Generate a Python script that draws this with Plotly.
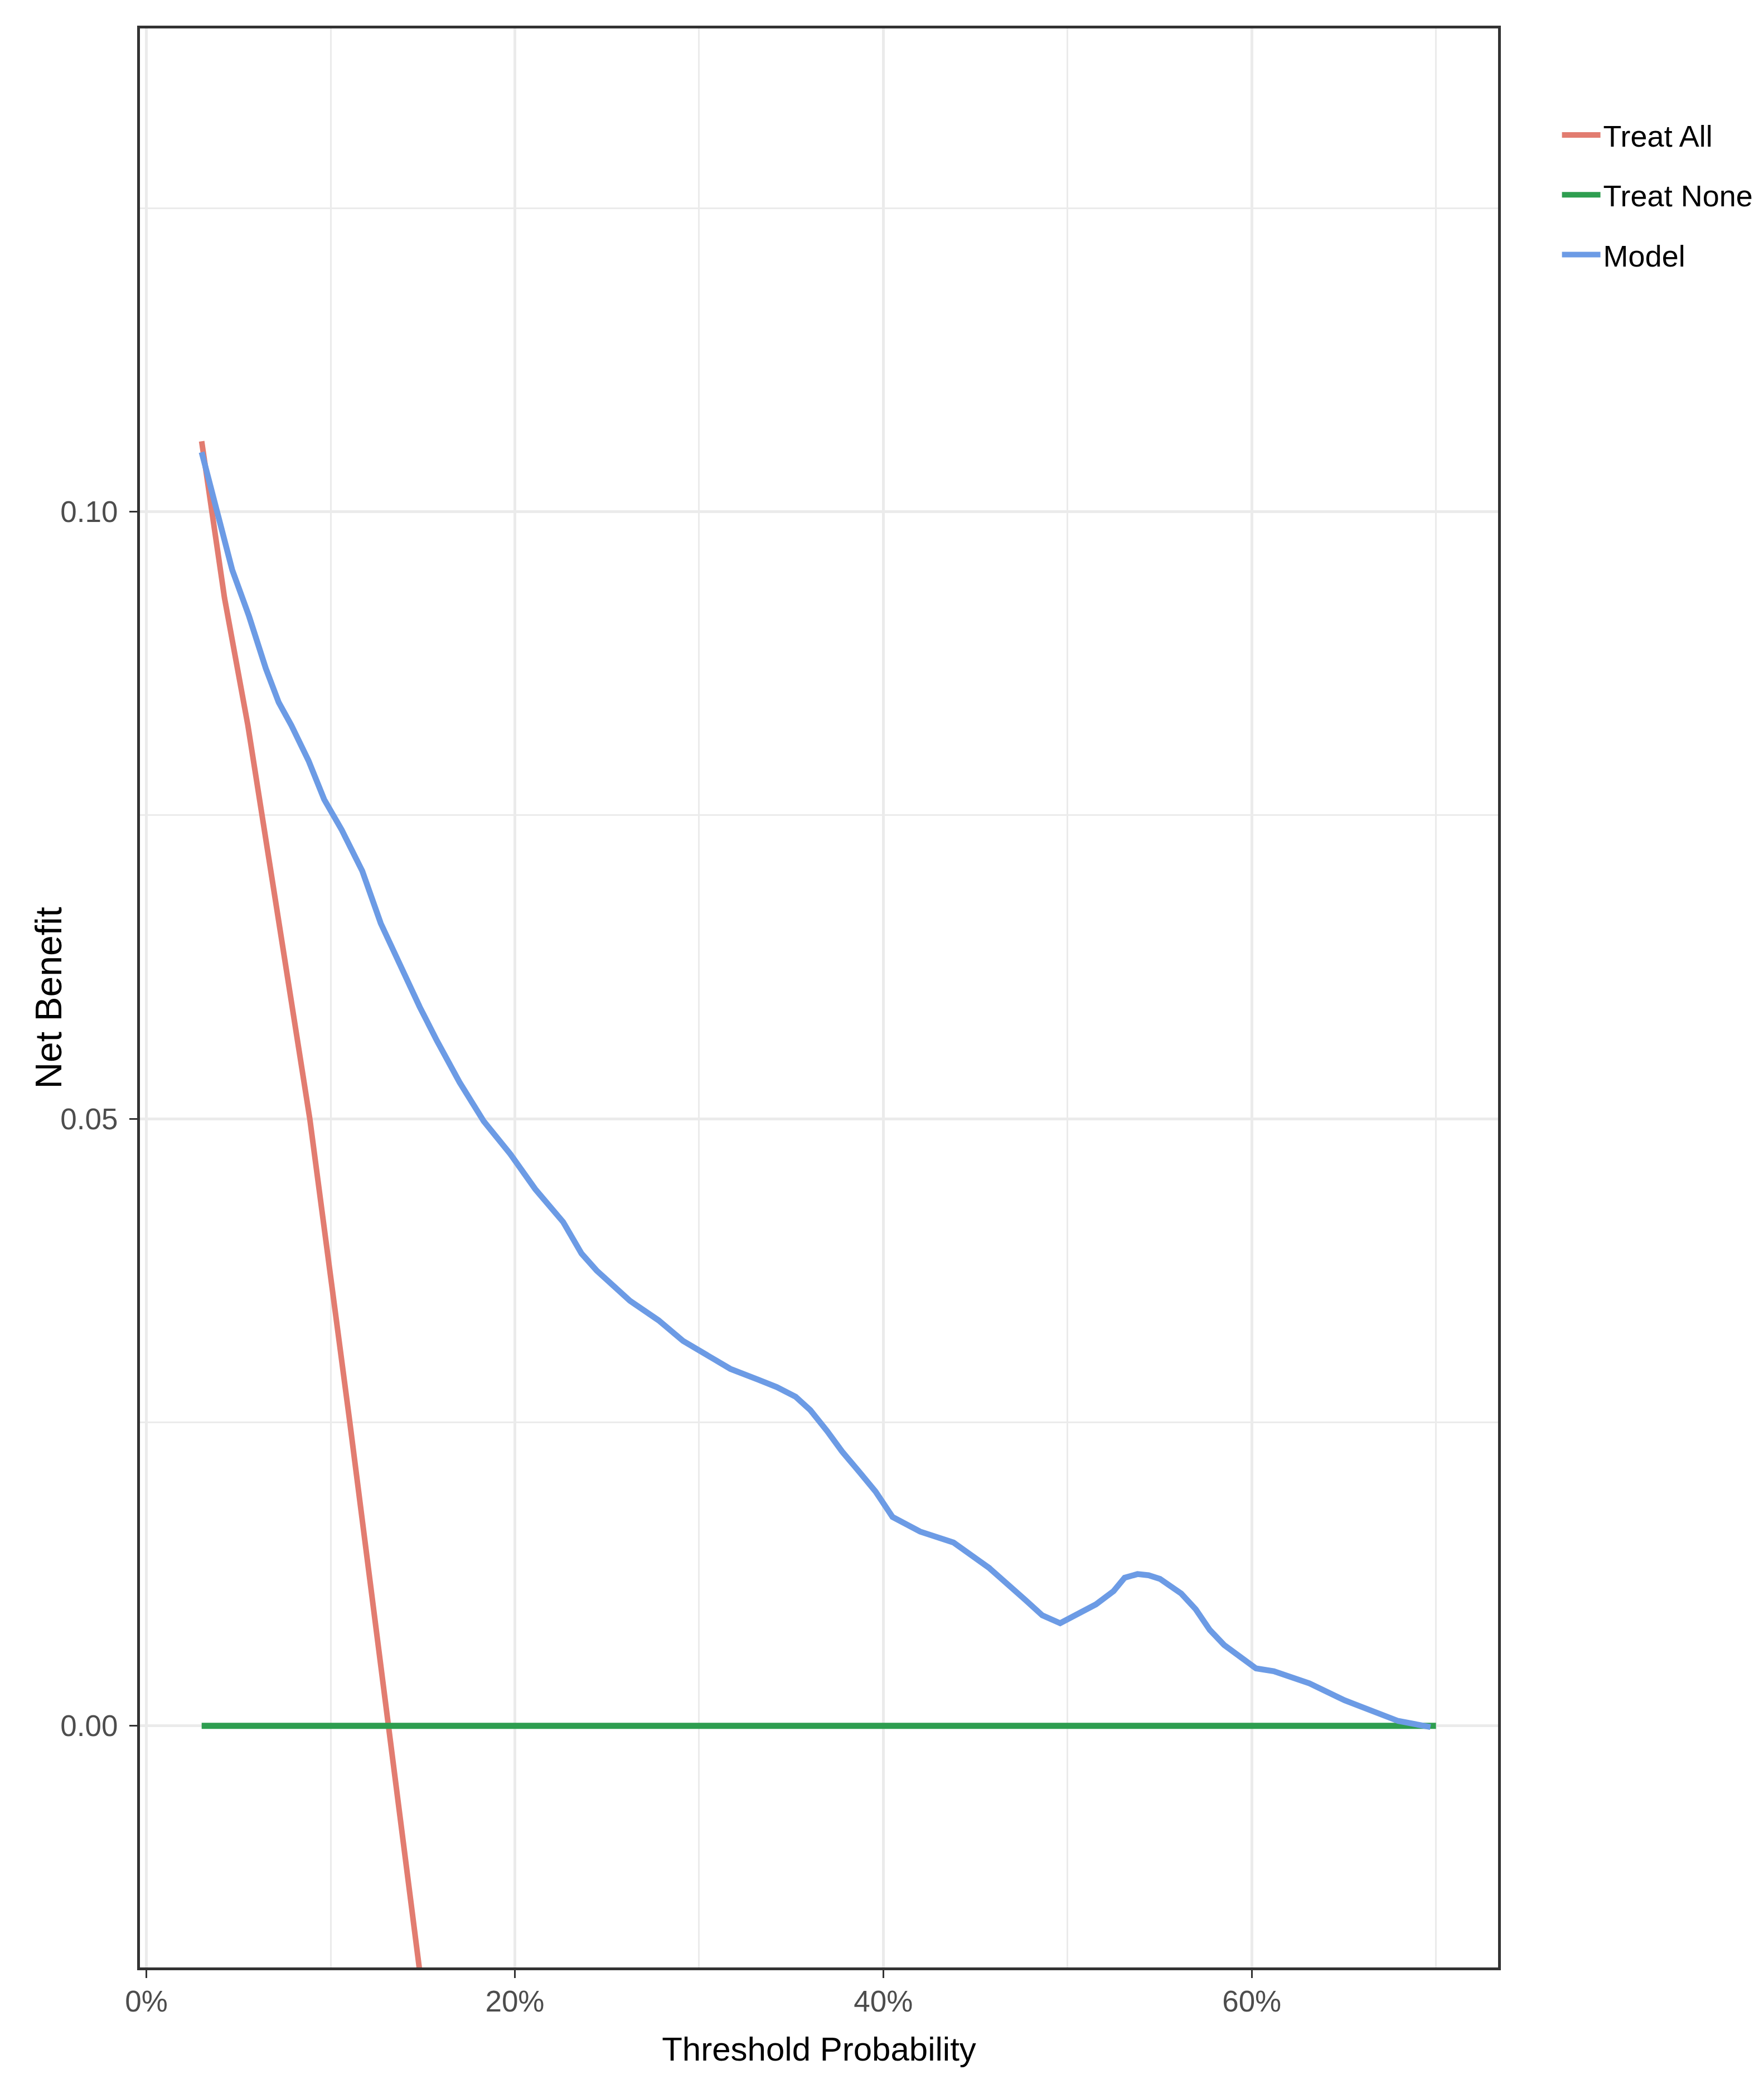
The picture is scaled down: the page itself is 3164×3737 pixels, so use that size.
import plotly.graph_objects as go

# ---- data ----
model_x = [0.030, 0.0394, 0.0466, 0.0557, 0.0648, 0.0718, 0.0787, 0.0880, 0.0965, 0.1060,
           0.1172, 0.1272, 0.1375, 0.1484, 0.1578, 0.1700, 0.1831, 0.1975, 0.2111, 0.2262,
           0.2362, 0.2444, 0.2625, 0.2780, 0.2913, 0.3050, 0.3170, 0.3322, 0.3422, 0.3524,
           0.3604, 0.3694, 0.3776, 0.3876, 0.3958, 0.4050, 0.4200, 0.4381, 0.4575, 0.4769,
           0.4863, 0.4960, 0.5154, 0.5250, 0.5310, 0.5380, 0.5440, 0.5502, 0.5617, 0.5696,
           0.5772, 0.5850, 0.5926, 0.6023, 0.6120, 0.6313, 0.6504, 0.6662, 0.6795, 0.6970]
model_nb = [0.1049, 0.0995, 0.0952, 0.0914, 0.0871, 0.0843, 0.0824, 0.0795, 0.0763, 0.0738,
            0.0704, 0.0661, 0.0627, 0.0592, 0.0564, 0.0530, 0.0498, 0.0471, 0.0442, 0.0415,
            0.0389, 0.0375, 0.0350, 0.0334, 0.0317, 0.0305, 0.0294, 0.0285, 0.0279, 0.0271,
            0.0260, 0.0243, 0.0226, 0.0208, 0.0193, 0.0172, 0.0160, 0.0151, 0.0130, 0.0104,
            0.0091, 0.00845, 0.0100, 0.0111, 0.0122, 0.0125, 0.0124, 0.0121, 0.0109, 0.0096,
            0.0079, 0.00666, 0.0058, 0.00473, 0.0045, 0.0035, 0.0021, 0.0012, 0.0004, -0.0001]

all_x = [0.030, 0.0424, 0.0551, 0.0887, 0.1100, 0.1317, 0.1487, 0.1700]
all_nb = [0.1058, 0.0929, 0.0824, 0.0500, 0.0255, 0.0000, -0.0203, -0.0460]

none_x = [0.030, 0.700]
none_nb = [0.0, 0.0]

series_names = ["Treat All", "Treat None", "Model"]
series_colors = ["#E27C70", "#2E9E50", "#6C9BE5"]

x_tickvals = [0, 0.2, 0.4, 0.6]
y_tickvals = [0.0, 0.05, 0.10]

x_title = "Threshold Probability"
y_title = "Net Benefit"

FONT = "Liberation Sans Narrow, Arial Narrow, Liberation Sans, Arial, sans-serif"

fig = go.Figure()
for name, xs, ys, col, w in [
    (series_names[0], all_x, all_nb, series_colors[0], 10),
    (series_names[1], none_x, none_nb, series_colors[1], 11),
    (series_names[2], model_x, model_nb, series_colors[2], 10.5),
]:
    fig.add_trace(go.Scatter(x=xs, y=ys, mode="lines", name=name, legendgroup=name,
                             line=dict(color=col, width=w)))

axis_common = dict(
    showline=True, mirror=True, linecolor="#333333", linewidth=5,
    ticks="outside", ticklen=14, tickwidth=3, tickcolor="#333333",
    showgrid=True, gridcolor="#EBEBEB", gridwidth=5, zeroline=False,
    tickfont=dict(family=FONT, size=53, color="#4D4D4D"),
    automargin=False,
)

fig.update_layout(
    width=3164, height=3737, autosize=False,
    margin=dict(l=243, r=485, t=43, b=217),
    paper_bgcolor="white", plot_bgcolor="white",
    font=dict(family=FONT, color="black"),
    xaxis=dict(**axis_common, range=[-0.0035, 0.7337], tickmode="array", tickvals=x_tickvals,
               tickformat=".0%", ticklabelstandoff=-4,
               minor=dict(tick0=0, dtick=0.1, showgrid=True, gridcolor="#EBEBEB", gridwidth=3, ticks=""),
               title=dict(text=x_title, font=dict(family=FONT, size=60, color="black"),
                          standoff=38)),
    yaxis=dict(**axis_common, range=[-0.0199, 0.1398], tickmode="array", tickvals=y_tickvals,
               tickformat=".2f", ticklabelstandoff=10,
               minor=dict(tick0=0, dtick=0.025, showgrid=True, gridcolor="#EBEBEB", gridwidth=3, ticks="")),
    legend=dict(x=1.045, xanchor="left", y=0.957, yanchor="top",
                font=dict(family=FONT, size=54, color="black"),
                tracegroupgap=34, itemwidth=69, bgcolor="rgba(0,0,0,0)"),
    showlegend=True,
    annotations=[dict(text=y_title, textangle=-90, xref="paper", yref="paper",
                      x=-0.0677, y=0.5, xanchor="center", yanchor="middle", showarrow=False,
                      font=dict(family=FONT, size=66, color="black"))],
)

fig.write_html("out.html")
